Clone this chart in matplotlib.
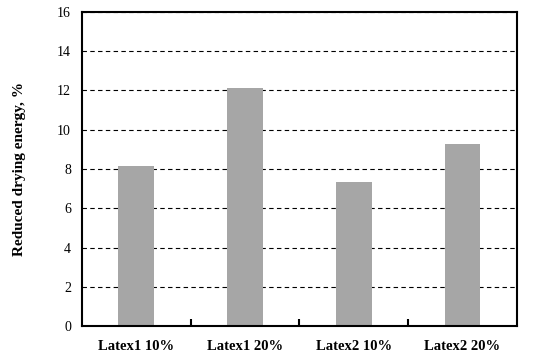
import matplotlib.pyplot as plt
import numpy as np

categories = ["Latex1 10%", "Latex1 20%", "Latex2 10%", "Latex2 20%"]
values = [8.15, 12.13, 7.35, 9.28]
y_ticks = [0, 2, 4, 6, 8, 10, 12, 14, 16]

plt.rcParams['font.family'] = ['Liberation Serif', 'DejaVu Serif']

fig = plt.figure(figsize=(5.34, 3.6), dpi=100)
ax = fig.add_axes([0.1536, 0.0944, 0.8144, 0.8723])

x = np.arange(len(categories))
ax.bar(x, values, width=0.33, color="#a6a6a6", zorder=3)

ax.set_xlim(-0.5, len(categories) - 0.5)
ax.set_ylim(0, 16)
ax.set_yticks(y_ticks)
ax.set_yticklabels([str(t) for t in y_ticks], fontsize=10)
ax.set_xticks(x)
ax.set_xticklabels(categories, fontsize=10.5, fontweight="bold")
ax.set_xticks(x[:-1] + 0.5, minor=True)
ax.tick_params(axis="x", which="major", length=0, pad=10)
ax.tick_params(axis="x", which="minor", direction="in", length=5, width=1.5)
ax.tick_params(axis="y", length=0, pad=8)

ax.yaxis.grid(True, linestyle=(0, (4, 3)), color="black", linewidth=0.8, zorder=0)
ax.set_axisbelow(True)

for s in ax.spines.values():
    s.set_linewidth(1.5)
    s.set_zorder(4)

ax.set_ylabel("Reduced drying energy, %", fontsize=11, fontweight="bold", labelpad=22)

fig.savefig("out.png", dpi=100)
